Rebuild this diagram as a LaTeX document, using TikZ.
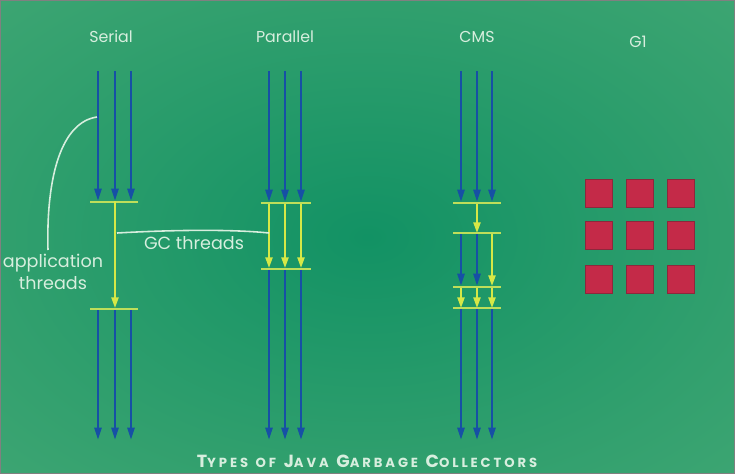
\documentclass[tikz,border=0pt]{standalone}
\usepackage{xcolor}
\usepackage{fontspec}
\setmainfont{Poppins}
\usepackage{tikz}
\usetikzlibrary{positioning,arrows.meta}

\definecolor{bgedge}{RGB}{100,184,130}
\definecolor{bgmid}{RGB}{50,160,110}
\definecolor{bgcore}{RGB}{18,146,100}
\definecolor{appblue}{RGB}{22,80,165}
\definecolor{gcyellow}{RGB}{214,232,70}
\definecolor{barcol}{RGB}{190,222,90}
\definecolor{lbltext}{RGB}{215,238,222}
\definecolor{regred}{RGB}{196,42,72}
\definecolor{regdark}{RGB}{140,40,60}
\pgfdeclareradialshading{bgglow}{\pgfpoint{0bp}{0bp}}{color(0bp)=(bgcore); color(26bp)=(bgmid); color(72bp)=(bgedge)}

\newcommand{\capsc}[2]{{\fontsize{10}{10}\selectfont #1}{\fontsize{7.5}{7.5}\selectfont #2}}

\tikzset{
  app/.style={draw=appblue, line width=1.3pt, -{Triangle[length=7pt,width=4pt]}},
  gc/.style={draw=gcyellow, line width=1.1pt, -{Triangle[length=6pt,width=4pt]}},
  safept/.style={draw=barcol, line width=1.2pt},
  pointer/.style={draw=lbltext, line width=0.9pt},
  lbl/.style={text=lbltext, font=\fontsize{9}{9}\selectfont},
  region/.style={fill=regred, draw=regdark, line width=0.4pt, minimum width=0.54cm, minimum height=0.56cm, inner sep=0pt}
}

\begin{document}
\begin{tikzpicture}[x=0.02cm, y=-0.02cm]
\useasboundingbox (0,0) rectangle (735,474);
\shade[shading=bgglow] (0,0) rectangle (735,474);
\draw[gray, line width=1pt] (0.5,0.5) rectangle (734.5,473.5);

% column titles
\node[lbl] (serial) at (111,37) {Serial};
\node[lbl] (parallel) at (285,37) {Parallel};
\node[lbl] (cms) at (477,37) {CMS};
\node[lbl] (g1) at (638,42) {G1};

% Serial
\foreach \x [count=\i] in {98,115,131} {
  \coordinate (s\i-top) at (\x,71);
  \coordinate (s\i-stop) at (\x,201);
  \coordinate (s\i-go) at (\x,309);
  \coordinate (s\i-end) at (\x,440);
  \draw[app] (s\i-top) -- (s\i-stop);
  \draw[app] (s\i-go) -- (s\i-end);
}
\coordinate (sA) at (90,202);
\coordinate (sB) at (138,202);
\coordinate (sC) at (90,309);
\coordinate (sD) at (138,309);
\coordinate (sgc) at (115,308);
\draw[safept] (sA) -- (sB);
\draw[safept] (sC) -- (sD);
\draw[gc] (s2-stop) -- (sgc);

% Parallel
\foreach \x [count=\i] in {269,285,301} {
  \coordinate (p\i-top) at (\x,71);
  \coordinate (p\i-stop) at (\x,202);
  \coordinate (p\i-gc) at (\x,268);
  \coordinate (p\i-go) at (\x,269);
  \coordinate (p\i-end) at (\x,440);
  \draw[app] (p\i-top) -- (p\i-stop);
  \draw[gc] (p\i-stop) -- (p\i-gc);
  \draw[app] (p\i-go) -- (p\i-end);
}
\coordinate (pA) at (261,203);
\coordinate (pB) at (311,203);
\coordinate (pC) at (261,269);
\coordinate (pD) at (311,269);
\draw[safept] (pA) -- (pB);
\draw[safept] (pC) -- (pD);

% CMS
\foreach \x [count=\i] in {461,477,492} {
  \coordinate (c\i-top) at (\x,71);
  \coordinate (c\i-stop) at (\x,202);
  \coordinate (c\i-a) at (\x,233);
  \coordinate (c\i-b) at (\x,286);
  \coordinate (c\i-c) at (\x,308);
  \coordinate (c\i-end) at (\x,440);
  \draw[app] (c\i-top) -- (c\i-stop);
  \draw[gc] (c\i-b) -- (c\i-c);
  \draw[app] (c\i-c) -- (c\i-end);
}
\draw[gc] (c2-stop) -- (c2-a);
\draw[app] (c1-a) -- (c1-b);
\draw[app] (c2-a) -- (c2-b);
\draw[gc] (c3-a) -- (c3-b);
\foreach \y [count=\k] in {203,233,287,308} {
  \coordinate (cL\k) at (453,\y);
  \coordinate (cR\k) at (501,\y);
  \draw[safept] (cL\k) -- (cR\k);
}

% G1 regions
\foreach \y [count=\r] in {193,235,279} {
  \foreach \x [count=\c] in {599,640,681} {
    \node[region] (reg\r\c) at (\x,\y) {};
  }
}

% labels
\coordinate (apptip) at (97,117);
\coordinate (append) at (48,250);
\draw[pointer] (apptip) .. controls (62,122) and (46,175) .. (append);
\node[lbl, align=center, font=\fontsize{10}{12.5}\selectfont] (apptxt) at (53,272) {application\\threads};

\coordinate (gcl) at (117,233);
\coordinate (gcr) at (269,233);
\draw[pointer] (gcl) .. controls (170,230) and (230,229) .. (gcr);
\node[lbl, font=\fontsize{10}{10}\selectfont] (gctxt) at (194,243) {GC threads};

\node[text=lbltext, font=\bfseries\addfontfeature{LetterSpace=22}] (title) at (367,461)
  {\capsc{T}{YPES} \capsc{}{OF} \capsc{J}{AVA} \capsc{G}{ARBAGE} \capsc{C}{OLLECTORS}};
\end{tikzpicture}
\end{document}
